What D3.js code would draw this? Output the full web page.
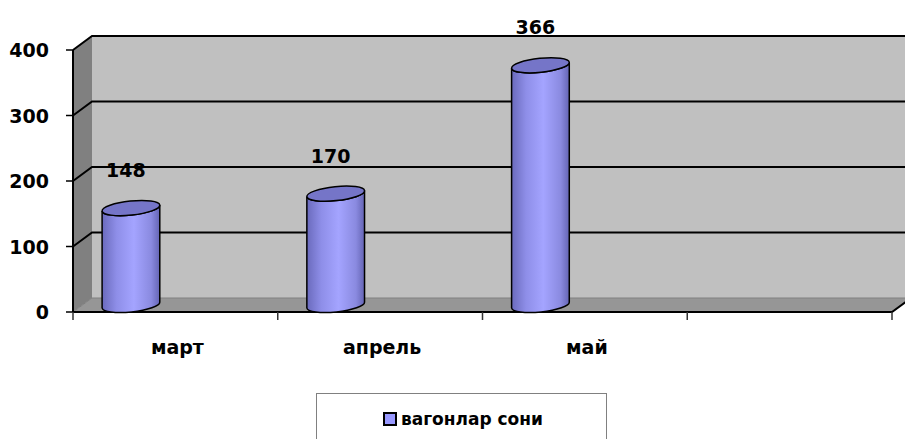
<!DOCTYPE html>
<html>
<head>
<meta charset="utf-8">
<script src="https://cdn.jsdelivr.net/npm/d3@7"></script>
<style>
  body { margin: 0; background: #fff; }
  text { font-family: "DejaVu Sans", Verdana, sans-serif; font-weight: bold; }
</style>
</head>
<body>
<svg id="chart" width="905" height="439"></svg>
<script>
let categories = ["март", "апрель", "май", ""];
let values = [148, 170, 366];
let yTicks = [0, 100, 200, 300, 400];
let seriesName = "вагонлар сони";

let svg = d3.select("#chart");

let plotLeft = 73, plotRight = 892, plotBottom = 312, plotTop = 50;
let dx = 19, dy = -14;   // depth of the 3d box

let x = d3.scaleBand().domain(categories).range([plotLeft, plotRight]);
let y = d3.scaleLinear().domain([0, 400]).range([plotBottom, plotTop]);
let bw = x.bandwidth();

// gradient for cylinder body
let defs = svg.append("defs");
let grad = defs.append("linearGradient").attr("id", "cyl").attr("x1", "0").attr("x2", "1").attr("y1", "0").attr("y2", "0");
grad.append("stop").attr("offset", "0%").attr("stop-color", "#6a6abc");
grad.append("stop").attr("offset", "25%").attr("stop-color", "#8e8ee8");
grad.append("stop").attr("offset", "55%").attr("stop-color", "#a4a4ff");
grad.append("stop").attr("offset", "85%").attr("stop-color", "#8a8ae0");
grad.append("stop").attr("offset", "100%").attr("stop-color", "#6464b4");

// back wall
svg.append("rect")
    .attr("x", plotLeft + dx).attr("y", plotTop + dy)
    .attr("width", plotRight - plotLeft).attr("height", plotBottom - plotTop)
    .attr("fill", "#c0c0c0");

// side wall
svg.append("path")
    .attr("d", `M${plotLeft},${plotTop} L${plotLeft + dx},${plotTop + dy} L${plotLeft + dx},${plotBottom + dy} L${plotLeft},${plotBottom} Z`)
    .attr("fill", "#808080");

// floor
svg.append("path")
    .attr("d", `M${plotLeft},${plotBottom} L${plotRight},${plotBottom} L${plotRight + dx},${plotBottom + dy} L${plotLeft + dx},${plotBottom + dy} Z`)
    .attr("fill", "#969696");

// gridlines (side + back)
for (let t of yTicks) {
    let yy = y(t);
    svg.append("path")
        .attr("d", `M${plotLeft},${yy} L${plotLeft + dx},${yy + dy} L${plotRight + dx},${yy + dy}`)
        .attr("fill", "none")
        .attr("stroke", t == 0 ? "#808080" : "#000")
        .attr("stroke-width", t == 0 ? 1 : 2);
}

// front floor edge + right edge
svg.append("path")
    .attr("d", `M${plotLeft},${plotBottom} L${plotRight},${plotBottom} L${plotRight + dx},${plotBottom + dy}`)
    .attr("fill", "none").attr("stroke", "#000").attr("stroke-width", 2);

// y axis line and ticks
svg.append("line").attr("x1", plotLeft).attr("x2", plotLeft).attr("y1", plotTop).attr("y2", plotBottom)
    .attr("stroke", "#000").attr("stroke-width", 2);
for (let t of yTicks) {
    svg.append("line").attr("x1", plotLeft - 7).attr("x2", plotLeft).attr("y1", y(t)).attr("y2", y(t))
        .attr("stroke", "#000").attr("stroke-width", 1.5);
    svg.append("text")
        .attr("x", 49).attr("y", y(t) + 7)
        .attr("text-anchor", "end")
        .style("font-size", "19px")
        .text(t);
}

// x ticks and labels
let xTickPos = categories.map(c => x(c)).concat([plotRight]);
for (let xp of xTickPos) {
    svg.append("line").attr("x1", xp).attr("x2", xp).attr("y1", plotBottom).attr("y2", plotBottom + 8)
        .attr("stroke", "#333").attr("stroke-width", 1.5);
}
categories.forEach(c => {
    svg.append("text")
        .attr("x", x(c) + bw / 2 + 2).attr("y", 354)
        .attr("text-anchor", "middle")
        .style("font-size", "19px")
        .text(c);
});

// cylinders
let rx = 29, ry = 7, rot = -6;
let rad = rot * Math.PI / 180;
let ex = rx * Math.cos(rad), ey = rx * Math.sin(rad);

values.forEach((v, i) => {
    let cx = x(categories[i]) + bw * 0.283;
    let cyTop = y(v) + dy / 2;
    let cyBot = y(0) + dy / 2;

    let g = svg.append("g");
    // body: left-top -> left-bottom -> front arc -> right-bottom -> right-top -> back arc
    g.append("path")
        .attr("d", `M${cx - ex},${cyTop - ey} L${cx - ex},${cyBot - ey}
                    A${rx},${ry} ${rot} 0 0 ${cx + ex},${cyBot + ey}
                    L${cx + ex},${cyTop + ey}
                    A${rx},${ry} ${rot} 0 1 ${cx - ex},${cyTop - ey} Z`)
        .attr("fill", "url(#cyl)")
        .attr("stroke", "#000").attr("stroke-width", 1.5);
    g.append("ellipse")
        .attr("cx", cx).attr("cy", cyTop)
        .attr("rx", rx).attr("ry", ry)
        .attr("transform", `rotate(${rot},${cx},${cyTop})`)
        .attr("fill", "#7575c8")
        .attr("stroke", "#000").attr("stroke-width", 1.5);

    svg.append("text")
        .attr("x", cx - 5).attr("y", y(v) - 38)
        .attr("text-anchor", "middle")
        .style("font-size", "19px")
        .text(v);
});

// legend
svg.append("rect")
    .attr("x", 316.5).attr("y", 393.5).attr("width", 290).attr("height", 60)
    .attr("fill", "#fff").attr("stroke", "#808080").attr("stroke-width", 1);
svg.append("rect")
    .attr("x", 384).attr("y", 413).attr("width", 12).attr("height", 12)
    .attr("fill", "#9999ff").attr("stroke", "#000").attr("stroke-width", 2);
svg.append("text")
    .attr("x", 401).attr("y", 425)
    .style("font-size", "17px")
    .text(seriesName);
</script>
</body>
</html>
